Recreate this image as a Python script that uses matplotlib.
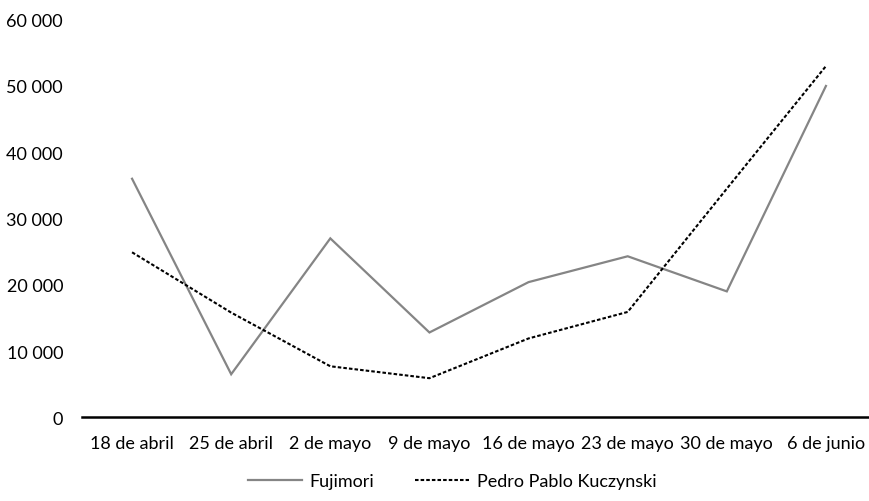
import matplotlib
matplotlib.use("Agg")
import matplotlib.pyplot as plt
from matplotlib.ticker import FuncFormatter

# Weekly figures per candidate
fechas = ["18 de abril", "25 de abril", "2 de mayo", "9 de mayo",
          "16 de mayo", "23 de mayo", "30 de mayo", "6 de junio"]
fujimori = [36000, 6500, 27000, 12800, 20400, 24300, 19000, 50000]
ppk = [24900, 15800, 7700, 5900, 11900, 15900, 34500, 53000]
y_ticks = [0, 10000, 20000, 30000, 40000, 50000, 60000]

plt.rcParams["font.family"] = ["Lato", "DejaVu Sans"]

W, H = 870, 502
fig = plt.figure(figsize=(W / 100, H / 100), dpi=100)
left, right = 82.5, 875.5
bottom, top = H - 418.3, H - 20.7
ax = fig.add_axes([left / W, bottom / H, (right - left) / W, (top - bottom) / H])

x = list(range(len(fechas)))
l1, = ax.plot(x, fujimori, color="#858585", lw=1.6, solid_joinstyle="miter",
              label="Fujimori")
l2, = ax.plot(x, ppk, color="black", lw=1.5, linestyle=(0, (1.7, 1.0)),
              label="Pedro Pablo Kuczynski")

ax.set_xlim(-0.5, len(fechas) - 0.5)
ax.set_ylim(0, 60000)
ax.set_yticks(y_ticks)
ax.yaxis.set_major_formatter(FuncFormatter(lambda v, p: f"{int(v):,}".replace(",", " ")))
ax.set_xticks(x)
ax.set_xticklabels(fechas)

for s in ["top", "right", "left"]:
    ax.spines[s].set_visible(False)
ax.spines["bottom"].set_linewidth(1.8)
ax.spines["bottom"].set_color("black")
ax.tick_params(axis="both", length=0, labelsize=13, colors="black")
ax.tick_params(axis="y", pad=14)
ax.tick_params(axis="x", pad=13)

fig.legend(handles=[l1, l2], loc="center", bbox_to_anchor=(452 / W, 1 - 482 / H),
           ncol=2, frameon=False, fontsize=13, handlelength=3.0,
           columnspacing=2.3, handletextpad=0.4, borderpad=0.0)

fig.savefig("out.png", dpi=100)
